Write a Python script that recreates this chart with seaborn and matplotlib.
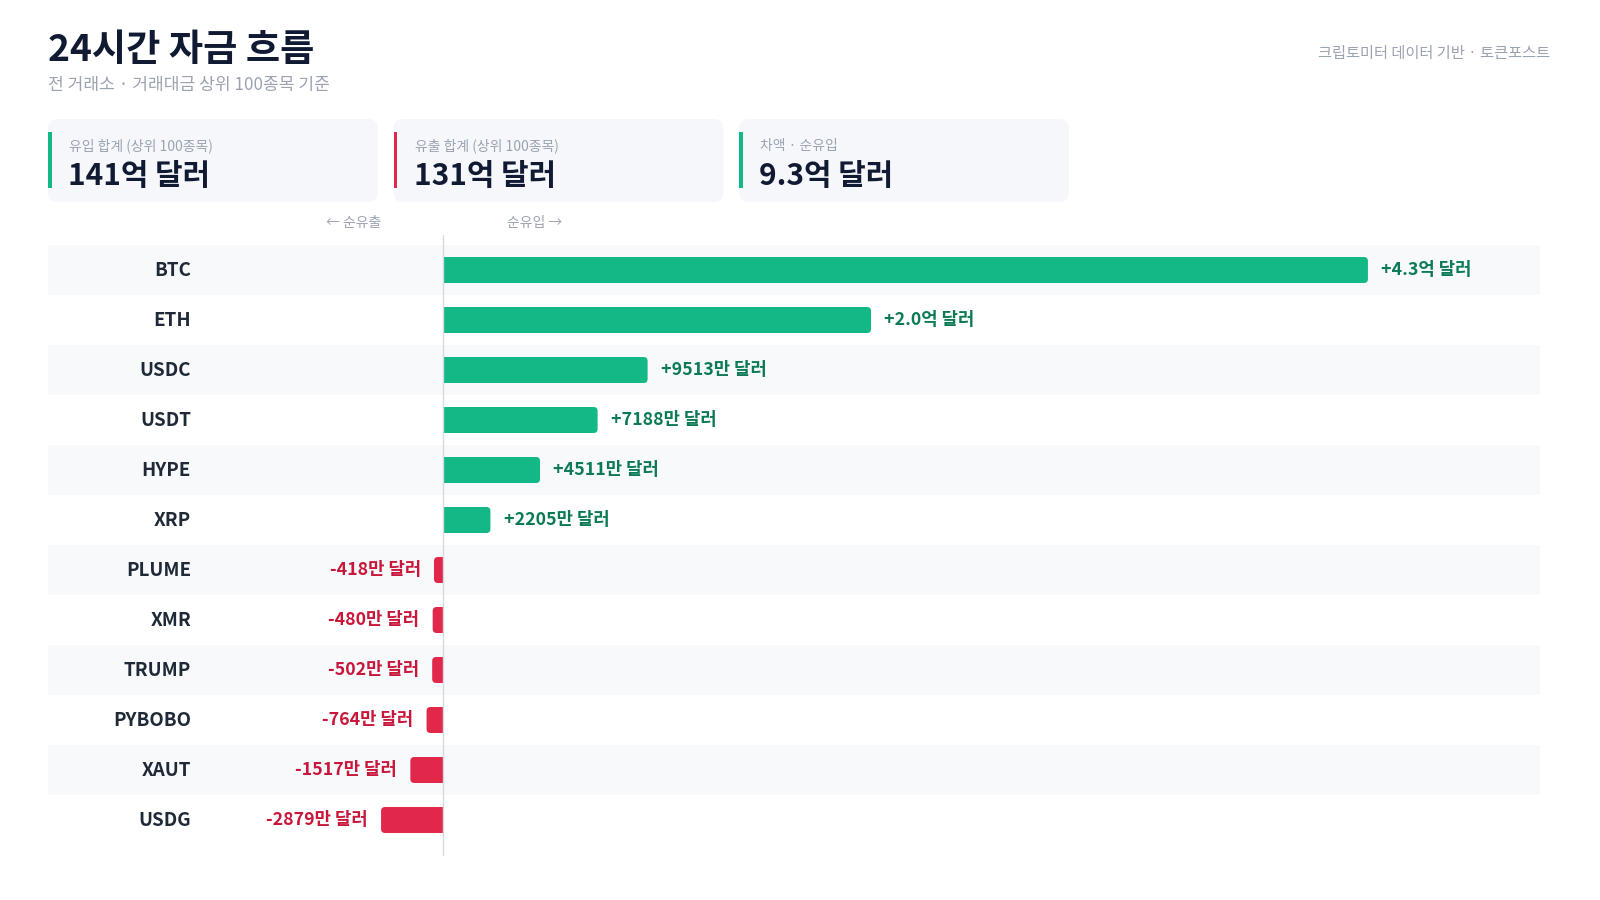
import matplotlib
matplotlib.use("Agg")
import matplotlib.pyplot as plt
import matplotlib.transforms as mtransforms
from matplotlib.patches import FancyBboxPatch, Rectangle
import pandas as pd
import seaborn as sns

sns.set_style("white")
plt.rcParams['font.family'] = ['Noto Sans CJK KR', 'DejaVu Sans']

# ===============================
# Data (만 달러)
# ===============================
tickers = ["BTC", "ETH", "USDC", "USDT", "HYPE", "XRP",
           "PLUME", "XMR", "TRUMP", "PYBOBO", "XAUT", "USDG"]
net_flow = [43000, 19900, 9513, 7188, 4511, 2205,
            -418, -480, -502, -764, -1517, -2879]

card_labels = ["유입 합계 (상위 100종목)", "유출 합계 (상위 100종목)", "차액 · 순유입"]
card_values = ["141억 달러", "131억 달러", "9.3억 달러"]
card_colors = ["#12b886", "#e0284a", "#12b886"]

title = "24시간 자금 흐름"
subtitle = "전 거래소 · 거래대금 상위 100종목 기준"
source = "크립토미터 데이터 기반 · 토큰포스트"

GREEN = "#13b886"
RED = "#e1284b"
GREEN_TXT = "#0b7a55"
RED_TXT = "#c8173a"
DARK = "#111a33"
GRAY = "#9ba3b1"

df = pd.DataFrame({"ticker": tickers, "flow": net_flow})
df["dir"] = ["in" if v >= 0 else "out" for v in df["flow"]]


def fmt(v):
    sign = "+" if v >= 0 else "-"
    a = abs(v)
    if a >= 10000:
        return f"{sign}{a / 10000:.1f}억 달러"
    return f"{sign}{a}만 달러"


# ===============================
# Figure
# ===============================
fig = plt.figure(figsize=(16, 9), dpi=100)
fig.patch.set_facecolor("white")
inch = fig.dpi_scale_trans

fig.text(0.48, 8.49, title, transform=inch, fontsize=26.8, fontweight="bold",
         color=DARK, va="center", ha="left")
fig.text(0.48, 8.15, subtitle, transform=inch, fontsize=12.3, color=GRAY,
         va="center", ha="left")
fig.text(15.50, 8.46, source, transform=inch, fontsize=11, color=GRAY,
         va="center", ha="right")

# summary cards
for i, (lab, val, col) in enumerate(zip(card_labels, card_values, card_colors)):
    x0 = 0.48 + i * 3.455
    card = FancyBboxPatch((x0, 6.98), 3.30, 0.83,
                          boxstyle="round,pad=0,rounding_size=0.1",
                          transform=inch, facecolor="#f5f7fb", edgecolor="none")
    fig.add_artist(card)
    stripe = Rectangle((x0, 7.12), 0.035, 0.56, transform=inch,
                       facecolor=col, edgecolor="none")
    fig.add_artist(stripe)
    fig.text(x0 + 0.21, 7.54, lab, transform=inch, fontsize=10, color=GRAY,
             va="center", ha="left")
    fig.text(x0 + 0.20, 7.24, val, transform=inch, fontsize=21.5,
             fontweight="bold", color=DARK, va="center", ha="left")

# ===============================
# Bars
# ===============================
ax = fig.add_axes([48 / 1600, 55 / 900, 1492 / 1600, 600 / 900])

for i in range(0, len(tickers), 2):
    ax.axhspan(i - 0.5, i + 0.5, color="#f8f9fb", zorder=0, lw=0)

sns.barplot(data=df, x="flow", y="ticker", hue="dir", orient="h",
            palette={"in": GREEN, "out": RED}, dodge=False, width=0.52,
            legend=False, ax=ax, zorder=2, saturation=1)

ax.set_xlim(-18363, 51000)
ax.set_ylim(len(tickers) - 0.5, -0.5)

# round the outer end of each bar (about 4 px)
px_x = 1492 / (51000 + 18363)   # pixels per data unit along x
px_y = 50.0                     # pixels per row
r = 4 / px_x
for p in list(ax.patches):
    if not isinstance(p, Rectangle) or p.get_height() > 0.9:
        continue
    x, y, w, h = p.get_x(), p.get_y(), p.get_width(), p.get_height()
    if w == 0:
        continue
    fc = p.get_facecolor()
    p.remove()
    left, width = (x, w) if w > 0 else (x + w, -w)
    rr = min(r, width / 2)
    ax.add_patch(FancyBboxPatch((left, y), width, h,
                                boxstyle=f"round,pad=0,rounding_size={rr}",
                                mutation_aspect=(1 / px_y) / (1 / px_x),
                                facecolor=fc, edgecolor="none", zorder=2))
    # keep the end at zero square
    sq = width / 2
    sq_left = 0 if w > 0 else -sq
    ax.add_patch(Rectangle((sq_left, y), sq, h, facecolor=fc,
                           edgecolor="none", zorder=2))

ax.axvline(0, ymin=-0.017, ymax=1.017, color="#d5d9e0", lw=1,
           zorder=3, clip_on=False)
ax.set_axis_off()

lab_trans = mtransforms.blended_transform_factory(ax.transAxes, ax.transData)
for i, (t, v) in enumerate(zip(tickers, net_flow)):
    ax.text(143 / 1492, i, t, transform=lab_trans, ha="right", va="center",
            fontsize=13.5, fontweight="bold", color="#1f2937")
    if v >= 0:
        ax.annotate(fmt(v), (v, i), xytext=(9.5, 0), textcoords="offset points",
                    ha="left", va="center", fontsize=12.8, fontweight="bold",
                    color=GREEN_TXT)
    else:
        ax.annotate(fmt(v), (v, i), xytext=(-9.5, 0), textcoords="offset points",
                    ha="right", va="center", fontsize=12.8, fontweight="bold",
                    color=RED_TXT)

# direction hints above the zero line
ax.annotate("← 순유출", (0, 1), xycoords=("data", "axes fraction"),
            xytext=(-44.5, 16), textcoords="offset points",
            ha="right", va="center", fontsize=10, color=GRAY)
ax.annotate("순유입 →", (0, 1), xycoords=("data", "axes fraction"),
            xytext=(46, 16), textcoords="offset points",
            ha="left", va="center", fontsize=10, color=GRAY)

fig.savefig("out.png", dpi=100, facecolor="white")
